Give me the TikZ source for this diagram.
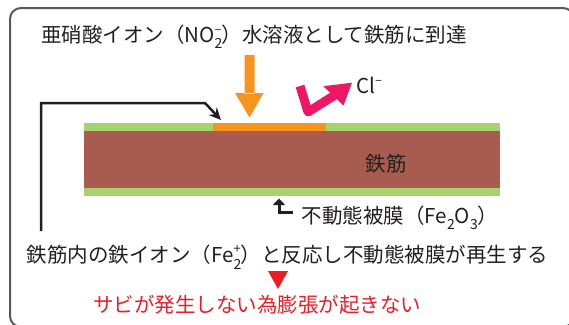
\documentclass[tikz,border=0pt]{standalone}
\usepackage{fontspec}
\setmainfont{Noto Sans CJK JP}
\usetikzlibrary{arrows.meta}
\definecolor{framegray}{HTML}{58595B}
\definecolor{filmgreen}{HTML}{A7D26E}
\definecolor{ironbrown}{HTML}{A85C4F}
\definecolor{nitorange}{HTML}{F7941E}
\definecolor{clpink}{HTML}{ED1763}
\definecolor{warnred}{HTML}{ED1C24}
\definecolor{inkc}{HTML}{231F20}
\newcommand{\chemss}[2]{\makebox[0pt][l]{\raisebox{-0.32em}{\fontsize{14}{14}\selectfont #1}}\raisebox{0.42em}{\fontsize{13}{13}\selectfont #2}}
\newcommand{\chemsub}[1]{\raisebox{-0.32em}{\fontsize{14}{14}\selectfont #1}}
\begin{document}
\begin{tikzpicture}[x=1pt,y=-1pt,
  lbl/.style={font=\fontsize{20.5}{24}\selectfont, text=inkc, inner sep=0pt, anchor=base},
  conn/.style={draw=inkc, line width=2.5pt}]
\useasboundingbox (0,0) rectangle (569,324);
\clip (0,0) rectangle (569,324);
% frame
\draw[framegray, line width=2pt, rounded corners=11pt] (10,8) rectangle (574,327);
% rebar
\fill[filmgreen] (84,123) rectangle (500,196);
\fill[ironbrown] (84,131) rectangle (500,188);
\fill[nitorange] (213,123) rectangle (326,131);
\node[lbl] (tetsu) at (386,171.5) {鉄筋};
% texts
\node[lbl] (title) at (254,42) {亜硝酸イオン（NO\chemss{2}{–}）水溶液として鉄筋に到達};
\node[lbl, anchor=base west] (cl) at (356,93) {Cl\raisebox{0.42em}{\fontsize{13}{13}\selectfont –}};
\node[lbl] (film) at (400,223) {不動態被膜（Fe\chemsub{2}O\chemsub{3}）};
\node[lbl] (regen) at (287.5,262.5) {鉄筋内の鉄イオン（Fe\chemss{2}{+}）と反応し不動態被膜が再生する};
\node[lbl, text=warnred] (norust) at (257,312.5) {サビが発生しない為膨張が起きない};
% orange arrow
\fill[nitorange] (244.5,55) rectangle (254.5,94) (235,93) -- (263.5,93) -- (249.5,117.5) -- cycle;
% pink arrow
\draw[clpink, line width=9pt, line join=round] (300,86) -- (308,112) -- (335,95);
\fill[clpink] (323.3,86.2) -- (352,82.7) -- (343.5,105.5) -- cycle;
% black connector
\coordinate (cstart) at (41,231);
\coordinate (ccorner) at (41,103);
\coordinate (cbend) at (205,103);
\coordinate (ctip) at (221,120);
\draw[conn, -{Stealth[length=12pt,width=11pt]}] (cstart) -- (ccorner) -- (cbend) -- (ctip);
% small elbow arrow
\coordinate (fstart) at (293,212);
\coordinate (fcorner) at (279,212);
\coordinate (ftip) at (279,198.5);
\draw[draw=inkc, line width=3pt, -{Triangle[length=6.5pt,width=12pt]}] (fstart) -- (fcorner) -- (ftip);
% red triangle
\fill[warnred] (268,271) -- (288,271) -- (278,289) -- cycle;
\end{tikzpicture}
\end{document}
